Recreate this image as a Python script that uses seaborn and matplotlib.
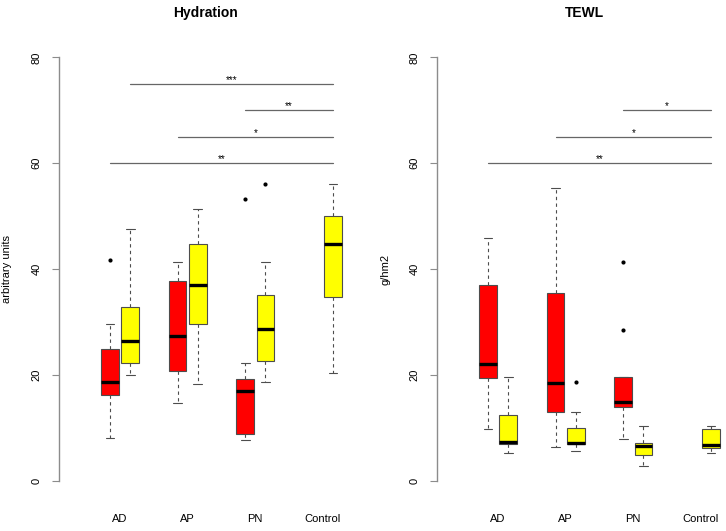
import matplotlib
matplotlib.use("Agg")
import matplotlib.pyplot as plt
import numpy as np
import pandas as pd
import seaborn as sns

# ---------------------------------------------------------------- data
groups = ["AD", "AD", "AP", "AP", "PN", "PN", "Control"]
kinds = ["L", "N", "L", "N", "L", "N", "N"]      # L = red, N = yellow

# Hydration (arbitrary units): whisker low, Q1, median, Q3, whisker high
hyd_lo = [8.0, 20.0, 14.7, 18.3, 7.7, 18.6, 20.3]
hyd_q1 = [16.2, 22.2, 20.7, 29.7, 8.9, 22.7, 34.7]
hyd_med = [18.7, 26.3, 27.3, 37.0, 16.9, 28.7, 44.8]
hyd_q3 = [24.9, 32.9, 37.8, 44.7, 19.3, 35.0, 50.0]
hyd_hi = [29.7, 47.6, 41.3, 51.3, 22.2, 41.3, 56.0]
hyd_out_group = ["AD", "PN", "PN"]
hyd_out_kind = ["L", "L", "N"]
hyd_out_val = [41.7, 53.3, 56.0]
hyd_sig_group = ["AD", "PN", "AP", "AD"]
hyd_sig_kind = ["N", "L", "L", "L"]
hyd_sig_y = [75, 70, 65, 60]
hyd_sig_txt = ["***", "**", "*", "**"]

# TEWL (g/hm2)
tewl_lo = [9.7, 5.3, 6.4, 5.7, 7.8, 2.8, 5.2]
tewl_q1 = [19.4, 7.0, 13.0, 6.9, 13.9, 4.9, 6.1]
tewl_med = [22.1, 7.3, 18.5, 7.1, 14.8, 6.5, 6.8]
tewl_q3 = [37.0, 12.5, 35.4, 10.0, 19.5, 7.1, 9.7]
tewl_hi = [45.9, 19.5, 55.4, 13.0, 19.5, 10.3, 10.4]
tewl_out_group = ["AP", "PN", "PN"]
tewl_out_kind = ["N", "L", "L"]
tewl_out_val = [18.6, 41.4, 28.5]
tewl_sig_group = ["AD", "AP", "PN"]
tewl_sig_kind = ["L", "L", "L"]
tewl_sig_y = [60, 65, 70]
tewl_sig_txt = ["**", "*", "*"]

tick_labels = ["AD", "AP", "PN", "Control"]

RED = "#ff0000"
YELLOW = "#ffff00"
EDGE = "#4d4d4d"
AXGRAY = "#8c8c8c"
GROUP_X = {"AD": 1, "AP": 2, "PN": 3, "Control": 4}
OFFSET = {"L": 0.0, "N": 0.3}


def xpos(g, k):
    return GROUP_X[g] + OFFSET[k]


def long_frame(lo, q1, med, q3, hi):
    rows = []
    for g, k, a, b, c, d, e in zip(groups, kinds, lo, q1, med, q3, hi):
        for v in (a, b, c, d, e):
            rows.append({"pos": xpos(g, k), "value": v, "kind": k})
    return pd.DataFrame(rows)


def draw_panel(ax, df, out_g, out_k, out_v, sig_g, sig_k, sig_y, sig_txt, title, ylabel):
    sns.boxplot(data=df, x="pos", y="value", hue="kind", palette={"L": RED, "N": YELLOW},
                native_scale=True, dodge=False, whis=(0, 100), width=0.87, legend=False,
                saturation=1, linewidth=0.8, ax=ax,
                boxprops={"edgecolor": EDGE},
                whiskerprops={"color": EDGE, "linestyle": (0, (3, 3)), "linewidth": 0.8},
                capprops={"color": EDGE, "linewidth": 0.8},
                medianprops={"color": "black", "linewidth": 2.4})
    sns.scatterplot(x=[xpos(g, k) for g, k in zip(out_g, out_k)], y=out_v, color="black",
                    s=9, linewidth=0, ax=ax, zorder=5)
    for g, k, y, t in zip(sig_g, sig_k, sig_y, sig_txt):
        x0 = xpos(g, k)
        x1 = xpos("Control", "N")
        ax.plot([x0, x1], [y, y], color="#666666", linewidth=0.9)
        ax.text((x0 + x1) / 2, y + 0.2, t, ha="center", va="baseline", fontsize=7)

    ax.set_xlim(0.24, 4.6)
    ax.set_ylim(-3.2, 83.2)
    ax.set_xticks([GROUP_X[g] + 0.15 for g in tick_labels])
    ax.set_xticklabels(tick_labels)
    ax.set_yticks([0, 20, 40, 60, 80])
    ax.set_yticklabels(["0", "20", "40", "60", "80"], rotation=90, va="center")
    ax.tick_params(axis="x", bottom=False, length=0, pad=11.5, labelsize=8)
    ax.tick_params(axis="y", left=True, length=5.4, width=0.8, color=AXGRAY, pad=7, labelsize=8)
    for s in ["top", "right", "bottom"]:
        ax.spines[s].set_visible(False)
    ax.spines["left"].set_bounds(0, 80)
    ax.spines["left"].set_color(AXGRAY)
    ax.spines["left"].set_linewidth(1.0)
    ax.set_xlabel("")
    ax.set_ylabel(ylabel, fontsize=8)
    ax.yaxis.set_label_coords(-0.158, 0.5)
    ax.set_title(title, fontsize=10, fontweight="bold", pad=16.5)


sns.set_theme(style="white")
plt.rcParams["font.family"] = ["Liberation Sans", "DejaVu Sans"]
plt.rcParams["text.color"] = "black"
plt.rcParams["axes.labelcolor"] = "black"
plt.rcParams["xtick.color"] = "black"
plt.rcParams["ytick.color"] = "black"

fig = plt.figure(figsize=(7.26, 5.31), dpi=100)
ax1 = fig.add_axes([0.0807, 0.0629, 0.4059, 0.861])
ax2 = fig.add_axes([0.6014, 0.0629, 0.4059, 0.861])

draw_panel(ax1, long_frame(hyd_lo, hyd_q1, hyd_med, hyd_q3, hyd_hi),
           hyd_out_group, hyd_out_kind, hyd_out_val,
           hyd_sig_group, hyd_sig_kind, hyd_sig_y, hyd_sig_txt,
           "Hydration", "arbitrary units")
draw_panel(ax2, long_frame(tewl_lo, tewl_q1, tewl_med, tewl_q3, tewl_hi),
           tewl_out_group, tewl_out_kind, tewl_out_val,
           tewl_sig_group, tewl_sig_kind, tewl_sig_y, tewl_sig_txt,
           "TEWL", "g/hm2")

fig.savefig("out.png", dpi=100)
